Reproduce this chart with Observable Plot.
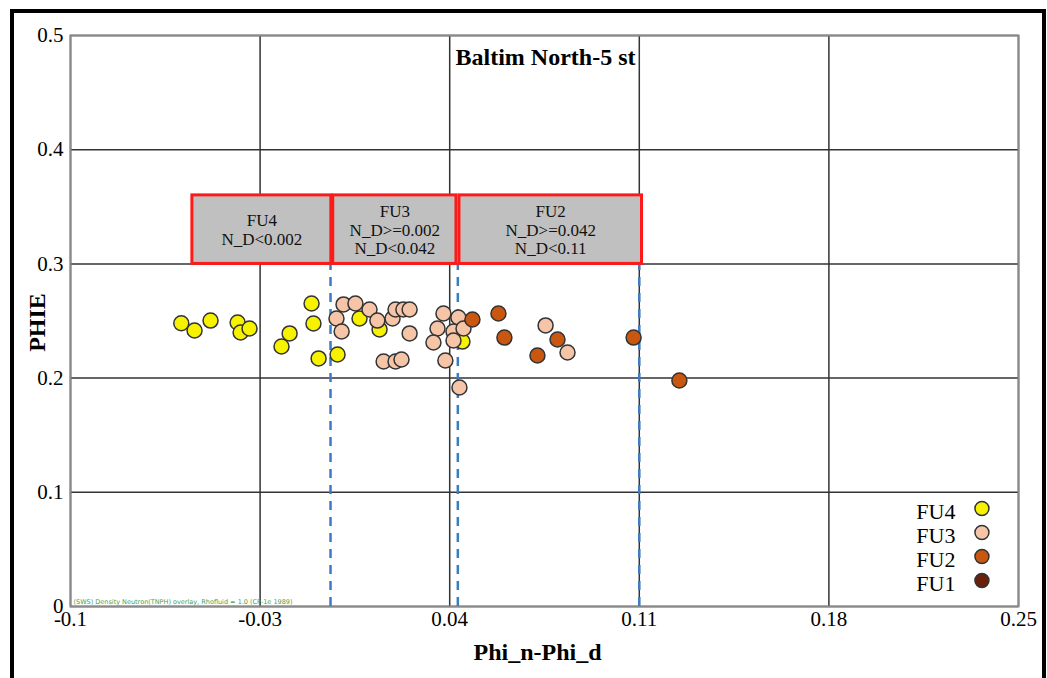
<!DOCTYPE html>
<html><head><meta charset="utf-8">
<script src="https://cdn.jsdelivr.net/npm/d3@7"></script>
<script src="https://cdn.jsdelivr.net/npm/@observablehq/plot@0.6"></script>
<style>
body{margin:0;background:#fff;}
#wrap{position:relative;width:1047px;height:678px;overflow:hidden;background:#fff}
#border{position:absolute;left:10px;top:9px;width:1036px;height:720px;border:4px solid #000;box-sizing:border-box;pointer-events:none}
</style>
</head><body>
<div id="wrap"><div id="border"></div></div>
<script>
// ---- data ----
const xTicks = [-0.1, -0.03, 0.04, 0.11, 0.18, 0.25];
const yTicks = [0, 0.1, 0.2, 0.3, 0.4, 0.5];
const title = "Baltim North-5 st";
const xLabel = "Phi_n-Phi_d";
const yLabel = "PHIE";
const note = "(SWS) Density Neutron(TNPH) overlay, Rhofluid = 1.0 (CP-1e 1989)";

const cutoffs = [-0.004, 0.043, 0.11];
const boxLabels = ["FU4\nN_D<0.002", "FU3\nN_D>=0.002\nN_D<0.042", "FU2\nN_D>=0.042\nN_D<0.11"];
const boxX1 = [-0.055, -0.003, 0.0436];
const boxX2 = [-0.0037, 0.0425, 0.111];
const boxY1 = [0.3, 0.3, 0.3];
const boxY2 = [0.36, 0.36, 0.36];

const fu4X = [-0.0591, -0.0542, -0.0483, -0.0383, -0.0372, -0.0339, -0.0221, -0.0191, -0.0110, -0.0103, -0.0084, -0.0014, 0.0067, 0.0141, 0.0447];
const fu4Y = [0.248, 0.2417, 0.2504, 0.2487, 0.2399, 0.2434, 0.2277, 0.2391, 0.2653, 0.2478, 0.2172, 0.2207, 0.2522, 0.2426, 0.232];
const fu3X = [0.0008, 0.0052, -0.0018, 0.0001, 0.0104, 0.0133, 0.0189, 0.0200, 0.0229, 0.0252, 0.0252, 0.0156, 0.0200, 0.0222, 0.0377, 0.0355, 0.0340, 0.0384, 0.0432, 0.0414, 0.0451, 0.0414, 0.0436, 0.0754, 0.0835];
const fu3Y = [0.2645, 0.2653, 0.2522, 0.2408, 0.2601, 0.2504, 0.2522, 0.2601, 0.2601, 0.2601, 0.2391, 0.2145, 0.2145, 0.2163, 0.2566, 0.2434, 0.2312, 0.2154, 0.2531, 0.2408, 0.2434, 0.2329, 0.1918, 0.2461, 0.2224];
const fu2X = [0.0484, 0.0580, 0.0602, 0.0724, 0.0798, 0.1079, 0.1248];
const fu2Y = [0.2513, 0.2566, 0.2355, 0.2198, 0.2338, 0.2355, 0.1979];
const fu1X = [];
const fu1Y = [];

const legendNames = ["FU4", "FU3", "FU2", "FU1"];
const colors = {FU4: "#f7f200", FU3: "#f6c4a6", FU2: "#c9570f", FU1: "#6a200b"};

// ---- build tables ----
const boxes = boxLabels.map((t, i) => ({t, x1: boxX1[i], x2: boxX2[i], y1: boxY1[i], y2: boxY2[i]}));
const points = [];
const add = (name, xs, ys) => xs.forEach((x, i) => points.push({name, x, y: ys[i]}));
add("FU4", fu4X, fu4Y);
add("FU3", fu3X, fu3Y);
add("FU2", fu2X, fu2Y);
add("FU1", fu1X, fu1Y);

const legX = 0.2365, legTextX = 0.2267, legY0 = 0.0858, legStep = 0.021;
const serif = "'Liberation Serif', 'Times New Roman', serif";

const chart = Plot.plot({
  width: 1047, height: 678,
  marginLeft: 70, marginRight: 29, marginTop: 35, marginBottom: 72,
  x: {domain: [-0.1, 0.25]},
  y: {domain: [0, 0.5]},
  style: {fontFamily: serif, background: "transparent", color: "#000", overflow: "visible"},
  marks: [
    Plot.gridX(xTicks, {stroke: "#333", strokeOpacity: 1, strokeWidth: 1.5}),
    Plot.gridY(yTicks, {stroke: "#333", strokeOpacity: 1, strokeWidth: 1.5}),
    Plot.frame({stroke: "#8a8a8a", strokeWidth: 2}),
    Plot.text([note], {frameAnchor: "bottom-left", dx: 3, dy: -5, lineAnchor: "middle", textAnchor: "start", fontSize: 6.5, fill: "#3fa34d", fontFamily: "'DejaVu Sans', sans-serif"}),
    Plot.ruleX(cutoffs, {y1: 0, y2: 0.3, stroke: "#3a7cc5", strokeWidth: 2.5, strokeDasharray: "9,7"}),
    Plot.rect(boxes, {x1: "x1", x2: "x2", y1: "y1", y2: "y2", fill: "#c0c0c0", stroke: "#ff1a1a", strokeWidth: 3}),
    Plot.text(boxes, {x: d => (d.x1 + d.x2) / 2, y: d => (d.y1 + d.y2) / 2, text: "t", fontSize: 17, lineHeight: 1.1, fill: "#111"}),
    Plot.dot(points, {x: "x", y: "y", r: 7.5, fill: d => colors[d.name], stroke: "#333", strokeWidth: 1.5}),
    Plot.text(legendNames, {x: legTextX, y: (d, i) => legY0 - i * legStep, text: d => d, textAnchor: "end", dy: 3, fontSize: 22}),
    Plot.dot(legendNames, {x: legX, y: (d, i) => legY0 - i * legStep, r: 7, fill: d => colors[d], stroke: "#333", strokeWidth: 1.5}),
    Plot.axisX({ticks: xTicks, tickSize: 0, tickPadding: 5, fontSize: 21, label: null, tickFormat: d => String(d)}),
    Plot.axisY({ticks: yTicks, tickSize: 0, tickPadding: 7, fontSize: 21, label: null, tickFormat: d => String(d)}),
    Plot.text([title], {frameAnchor: "top", dx: 1, dy: 22, lineAnchor: "middle", fontSize: 24, fontWeight: "bold"}),
    Plot.text([xLabel], {frameAnchor: "bottom", dx: -7, dy: 46, lineAnchor: "middle", fontSize: 24, fontWeight: "bold"}),
    Plot.text([yLabel], {frameAnchor: "left", dx: -33, dy: 1.5, rotate: -90, textAnchor: "middle", lineAnchor: "middle", fontSize: 24, fontWeight: "bold"})
  ]
});
chart.style.position = "absolute";
chart.style.left = "0px";
chart.style.top = "0px";
document.getElementById("wrap").appendChild(chart);
</script>
</body></html>
